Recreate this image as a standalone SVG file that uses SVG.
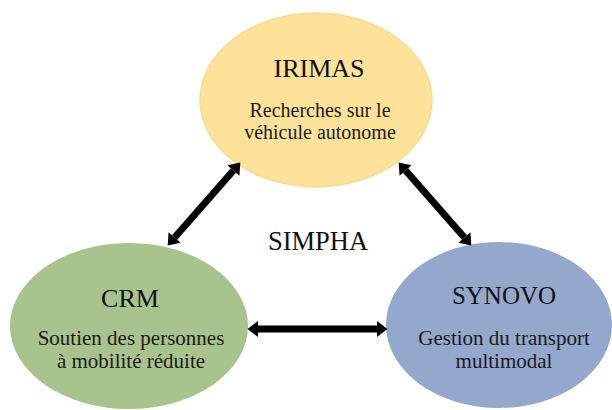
<svg xmlns="http://www.w3.org/2000/svg" width="612" height="410" viewBox="0 0 612 410">
  <defs>
    <marker id="head" markerUnits="userSpaceOnUse" markerWidth="12" markerHeight="18" viewBox="0 -9 11 18" refX="0" refY="0" orient="auto-start-reverse">
      <path d="M0,-8 L10.5,0 L0,8 z" fill="#000"/>
    </marker>
  </defs>
  <style>
    .title { font-family: "Liberation Serif", "Times New Roman", serif; fill: #111; text-anchor: middle; }
    .sub { font-family: "Liberation Serif", "Times New Roman", serif; fill: #1a1a1a; text-anchor: middle; }
    .conn { stroke: #000; stroke-width: 7; fill: none; marker-start: url(#head); marker-end: url(#head); }
  </style>
  <rect width="612" height="410" fill="#fff"/>

  <g id="irimas">
    <ellipse cx="316" cy="100" rx="116" ry="87" fill="#FEE29A" stroke="#F7DB90" stroke-width="1.5"/>
    <text class="title" x="319" y="77" font-size="26">IRIMAS</text>
    <text class="sub" x="320" y="117" font-size="20">Recherches sur le</text>
    <text class="sub" x="320" y="139" font-size="20">véhicule autonome</text>
  </g>

  <g id="crm">
    <ellipse cx="129" cy="326" rx="119" ry="83" fill="#A9C38F"/>
    <text class="title" x="130" y="307" font-size="26">CRM</text>
    <text class="sub" x="131" y="345" font-size="21">Soutien des personnes</text>
    <text class="sub" x="131" y="368" font-size="21">à mobilité réduite</text>
  </g>

  <g id="synovo">
    <ellipse cx="499" cy="325" rx="113" ry="83" fill="#94A8CD"/>
    <text class="title" x="504" y="304" font-size="25">SYNOVO</text>
    <text class="sub" x="504" y="345" font-size="21">Gestion du transport</text>
    <text class="sub" x="504" y="368" font-size="21">multimodal</text>
  </g>

  <g id="simpha">
    <text class="title" x="318" y="250" font-size="26.5">SIMPHA</text>
  </g>

  <g id="connectors">
    <line class="conn" x1="233.4" y1="170.5" x2="174.6" y2="237.5"/>
    <line class="conn" x1="405.6" y1="170.5" x2="464.4" y2="237.5"/>
    <line class="conn" x1="258" y1="329" x2="377" y2="329"/>
  </g>
</svg>
